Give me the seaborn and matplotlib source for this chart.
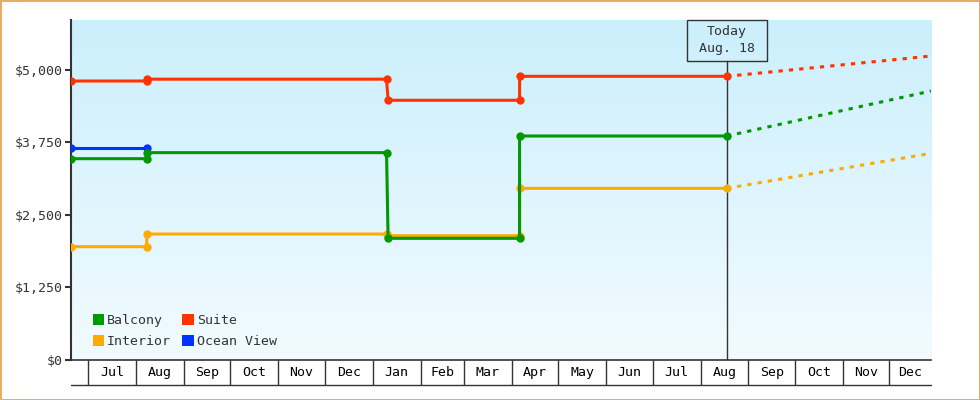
import numpy as np
import pandas as pd
import matplotlib
matplotlib.use("Agg")
import matplotlib.pyplot as plt
import matplotlib.dates as mdates
from matplotlib.patches import Patch, Rectangle
from matplotlib.ticker import FixedLocator, FuncFormatter
import seaborn as sns

# fare history, step changes share the same dates
step_dates = ['2017-06-20', '2017-08-08', '2017-08-08', '2018-01-10',
              '2018-01-11', '2018-04-06', '2018-04-06', '2018-08-18']
balcony = [3471, 3471, 3575, 3575, 2098, 2098, 3862, 3862]
suite = [4810, 4810, 4842, 4842, 4478, 4478, 4891, 4891]
interior = [1954, 1954, 2172, 2172, 2143, 2143, 2960, 2960]
ocean_dates = ['2017-06-20', '2017-08-08']
ocean_view = [3655, 3655]

# projection from today to end of year
proj_dates = ['2018-08-18', '2018-12-28']
balcony_proj = [3862, 4638]
suite_proj = [4891, 5241]
interior_proj = [2960, 3564]

month_labels = ['Jul', 'Aug', 'Sep', 'Oct', 'Nov', 'Dec', 'Jan', 'Feb', 'Mar',
                'Apr', 'May', 'Jun', 'Jul', 'Aug', 'Sep', 'Oct', 'Nov', 'Dec']
y_ticks = [0, 1250, 2500, 3750, 5000]
today = '2018-08-18'
x_start, x_end = '2017-06-20', '2018-12-28'

colors = {'Balcony': '#009900', 'Suite': '#FF3300',
          'Interior': '#FFAA00', 'Ocean View': '#0033FF'}
dark = '#333333'

sns.set_style("white")
plt.rcParams['font.family'] = ['DejaVu Sans Mono', 'DejaVu Sans']
plt.rcParams['font.size'] = 9.5

hist = pd.concat([
    pd.DataFrame({'date': pd.to_datetime(step_dates), 'price': interior, 'room': 'Interior'}),
    pd.DataFrame({'date': pd.to_datetime(ocean_dates), 'price': ocean_view, 'room': 'Ocean View'}),
    pd.DataFrame({'date': pd.to_datetime(step_dates), 'price': balcony, 'room': 'Balcony'}),
    pd.DataFrame({'date': pd.to_datetime(step_dates), 'price': suite, 'room': 'Suite'}),
])
proj = pd.concat([
    pd.DataFrame({'date': pd.to_datetime(proj_dates), 'price': interior_proj, 'room': 'Interior'}),
    pd.DataFrame({'date': pd.to_datetime(proj_dates), 'price': balcony_proj, 'room': 'Balcony'}),
    pd.DataFrame({'date': pd.to_datetime(proj_dates), 'price': suite_proj, 'room': 'Suite'}),
])

fig = plt.figure(figsize=(9.8, 4), dpi=100, edgecolor='#E9AB66', linewidth=2)
ax = fig.add_axes([71/980, 40/400, 860/980, 340/400])

# gradient background
grad = np.linspace(0, 1, 256)[:, None]
top_c = np.array([203, 239, 252]) / 255
bot_c = np.array([242, 251, 255]) / 255
img = top_c[None, None, :] * (1 - grad[:, :, None]) + bot_c[None, None, :] * grad[:, :, None]
ax.imshow(img, extent=[0, 1, 0, 1], transform=ax.transAxes, aspect='auto', zorder=0)

order = ['Interior', 'Ocean View', 'Balcony', 'Suite']
sns.lineplot(data=proj, x='date', y='price', hue='room', hue_order=['Interior', 'Balcony', 'Suite'],
             palette=colors, estimator=None, sort=False, lw=2.2,
             linestyle=(0, (1.4, 2.0)), legend=False, ax=ax, zorder=3)
sns.lineplot(data=hist, x='date', y='price', hue='room', hue_order=order,
             palette=colors, estimator=None, sort=False, lw=2.2,
             marker='o', markersize=6, markeredgewidth=0, legend=False, ax=ax, zorder=4)

xmin, xmax = mdates.date2num(pd.Timestamp(x_start)), mdates.date2num(pd.Timestamp(x_end))
ax.set_xlim(xmin, xmax)
ax.set_ylim(0, 5862)

# month bands
starts = pd.date_range('2017-06-01', '2018-12-01', freq='MS')
mids = []
for s in starts[1:]:
    a = mdates.date2num(s)
    b = mdates.date2num(s + pd.offsets.MonthBegin(1))
    mids.append((max(a, xmin) + min(b, xmax)) / 2)
ax.xaxis.set_major_locator(FixedLocator(mids))
ax.set_xticklabels(month_labels)
ax.xaxis.set_minor_locator(mdates.MonthLocator())
ax.tick_params(axis='x', which='major', length=0, pad=4.5, labelcolor='black', bottom=True)
ax.tick_params(axis='x', which='minor', length=18, width=1, color=dark, direction='out', bottom=True)
ax.plot([0, 1], [-25/340, -25/340], transform=ax.transAxes, clip_on=False, color=dark, lw=1)

ax.yaxis.set_major_locator(FixedLocator(y_ticks))
ax.yaxis.set_major_formatter(FuncFormatter(lambda v, p: '${:,.0f}'.format(v)))
ax.tick_params(axis='y', length=4.5, width=1.5, color=dark, pad=1.5, labelcolor=dark, left=True)

for side in ['top', 'right']:
    ax.spines[side].set_visible(False)
ax.spines['left'].set_color(dark)
ax.spines['left'].set_linewidth(1.5)
ax.spines['bottom'].set_color(dark)
ax.spines['bottom'].set_linewidth(1.2)
ax.set_xlabel('')
ax.set_ylabel('')

# today marker
tnum = mdates.date2num(pd.Timestamp(today))
half_w = 40 / 860 * (xmax - xmin)
box_h = 40.7 / 340
tr = ax.get_xaxis_transform()
ax.plot([tnum, tnum], [0, 1 - box_h], transform=tr, color=dark, lw=1, zorder=2)
ax.add_patch(Rectangle((tnum - half_w, 1 - box_h), 2 * half_w, box_h, transform=tr,
                       facecolor='none', edgecolor=dark, lw=1, clip_on=False, zorder=5))
ax.text(tnum, 1 - box_h / 2, 'Today\nAug. 18', transform=tr, ha='center', va='center',
        linespacing=1.4, color=dark, zorder=6)

handles = [Patch(facecolor=colors[k], edgecolor='none', label=k)
           for k in ['Balcony', 'Interior', 'Suite', 'Ocean View']]
ax.legend(handles=handles, ncol=2, loc='lower left', bbox_to_anchor=(0.025, 0.035),
          frameon=False, handlelength=0.85, handleheight=0.85, handletextpad=0.25,
          columnspacing=0.87, labelspacing=0.6, borderpad=0, borderaxespad=0,
          labelcolor=dark)

fig.savefig('out.png', dpi=100)
